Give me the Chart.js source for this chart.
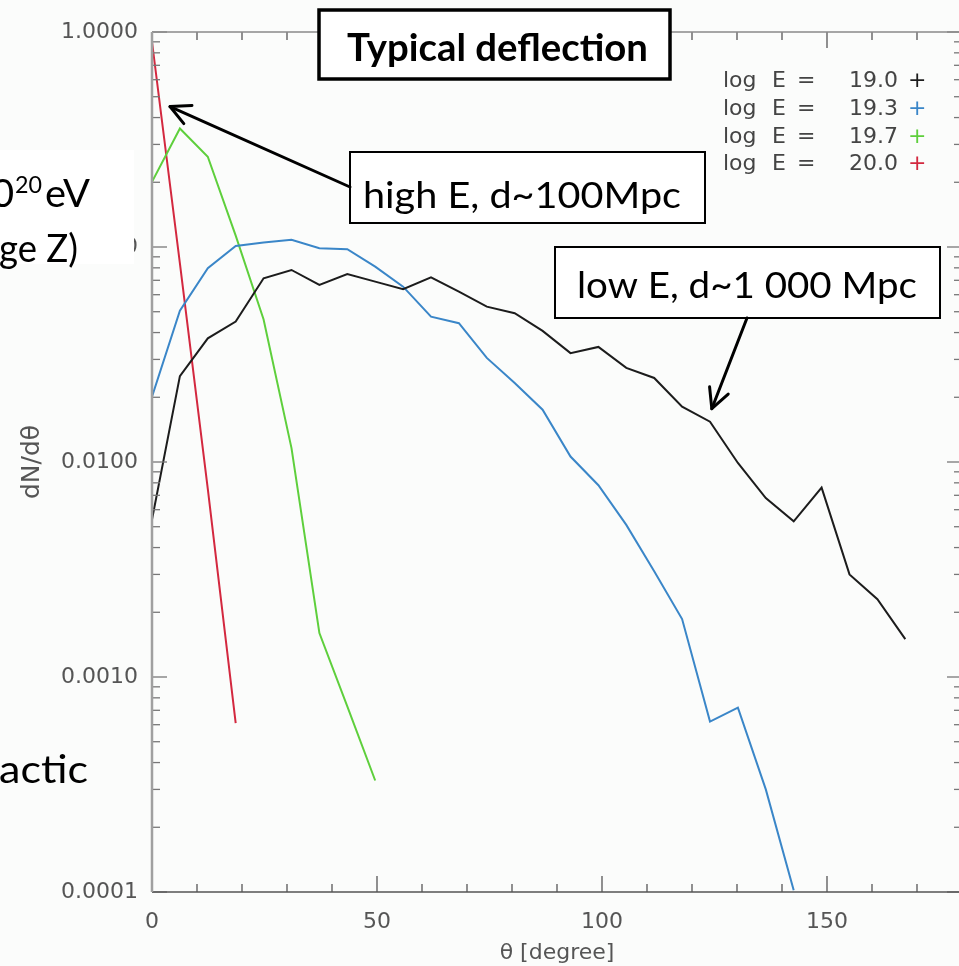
<!DOCTYPE html>
<html>
<head>
<meta charset="utf-8">
<script src="https://cdn.jsdelivr.net/npm/chart.js@4.4.1/dist/chart.umd.min.js"></script>
<style>
html,body{margin:0;padding:0;overflow:hidden;width:959px;height:966px;background:#fbfcfb}
#wrap{position:absolute;left:0;top:0;width:975px;height:966px}
</style>
</head>
<body>
<div id="wrap"><canvas id="c" width="975" height="966"></canvas></div>
<script>
// ---- data ----
const theta = [0, 6.2, 12.4, 18.6, 24.8, 31.0, 37.2, 43.4, 49.6, 55.8, 62.0, 68.2, 74.4, 80.6,
               86.8, 93.0, 99.2, 105.4, 111.6, 117.8, 124.0, 130.2, 136.4, 142.6, 148.8, 155.0, 161.2, 167.4];
const energyLabels = ['19.0', '19.3', '19.7', '20.0'];
const seriesColors = ['#1c1c1c', '#3a86c8', '#5ecf3c', '#d3283f'];
const dNdTheta_19_0 = [0.0054, 0.0251, 0.0376, 0.045, 0.0715, 0.0782, 0.0666, 0.0749, 0.069, 0.0636,
                       0.0723, 0.062, 0.0528, 0.0492, 0.0407, 0.0321, 0.0343, 0.0274, 0.0246, 0.0181,
                       0.0154, 0.0099, 0.0068, 0.0053, 0.0076, 0.0030, 0.0023, 0.0015];
const dNdTheta_19_3 = [0.0201, 0.0506, 0.0796, 0.101, 0.105, 0.108, 0.0986, 0.0976, 0.081, 0.0654,
                       0.0474, 0.0442, 0.0305, 0.0233, 0.0175, 0.0106, 0.0078, 0.0051, 0.0031, 0.00186,
                       0.00062, 0.00072, 0.0003, 0.000102];
const dNdTheta_19_7 = [0.201, 0.356, 0.263, 0.113, 0.046, 0.0116, 0.0016, 0.00073, 0.00033];
const dNdTheta_20_0 = [0.9, 0.084, 0.0075, 0.00061];
const xTickValues = [0, 50, 100, 150];
const xMinorValues = [10, 20, 30, 40, 60, 70, 80, 90, 110, 120, 130, 140, 160, 170];
const yTickValues = [0.0001, 0.001, 0.01, 0.1, 1];
const xAxisTitle = 'θ [degree]';
const yAxisTitle = 'dN/dθ';
const titleText = 'Typical deflection';
const highText = 'high E, d~100Mpc';
const lowText = 'low E, d~1 000 Mpc';

const seriesValues = [dNdTheta_19_0, dNdTheta_19_3, dNdTheta_19_7, dNdTheta_20_0];
const datasets = seriesValues.map((vals, i) => ({
  label: 'log E = ' + energyLabels[i],
  data: vals.map((v, k) => ({x: theta[k], y: v})),
  borderColor: seriesColors[i],
  borderWidth: 2,
  pointRadius: 0,
  tension: 0,
  fill: false
}));

function fitText(ctx, text, x, y, width, font) {
  ctx.font = font;
  const w = ctx.measureText(text).width;
  ctx.save();
  ctx.translate(x, y);
  ctx.scale(width / w, 1);
  ctx.textAlign = 'left';
  ctx.textBaseline = 'alphabetic';
  ctx.fillText(text, 0, 0);
  ctx.restore();
}
function seg(ctx, x1, y1, x2, y2) { ctx.beginPath(); ctx.moveTo(x1, y1); ctx.lineTo(x2, y2); ctx.stroke(); }
function arrow(ctx, x1, y1, x2, y2) {
  ctx.save();
  ctx.strokeStyle = '#000'; ctx.lineWidth = 3; ctx.lineCap = 'round'; ctx.lineJoin = 'round';
  seg(ctx, x1, y1, x2, y2);
  const ang = Math.atan2(y1 - y2, x1 - x2);
  const L = 22, a = 27 * Math.PI / 180;
  ctx.beginPath();
  ctx.moveTo(x2 + L * Math.cos(ang + a), y2 + L * Math.sin(ang + a));
  ctx.lineTo(x2, y2);
  ctx.lineTo(x2 + L * Math.cos(ang - a), y2 + L * Math.sin(ang - a));
  ctx.stroke();
  ctx.restore();
}
function box(ctx, x, y, w, h, lw) {
  ctx.save();
  ctx.fillStyle = '#ffffff'; ctx.fillRect(x, y, w, h);
  ctx.strokeStyle = '#000'; ctx.lineWidth = lw; ctx.strokeRect(x, y, w, h);
  ctx.restore();
}

const overlay = {
  id: 'overlay',
  beforeDraw(chart) {
    const c = chart.ctx;
    c.save(); c.fillStyle = '#fbfcfb'; c.fillRect(0, 0, chart.width, chart.height); c.restore();
  },
  afterDatasetsDraw(chart) {
    const {ctx, chartArea: a, scales: {x, y}} = chart;
    ctx.save();
    // ticks (inward, mirrored on all sides)
    ctx.strokeStyle = '#555'; ctx.lineWidth = 1.3;
    xTickValues.forEach(v => { const p = x.getPixelForValue(v); seg(ctx, p, a.bottom, p, a.bottom - 16); seg(ctx, p, a.top, p, a.top + 16); });
    xMinorValues.forEach(v => { const p = x.getPixelForValue(v); seg(ctx, p, a.bottom, p, a.bottom - 8); seg(ctx, p, a.top, p, a.top + 8); });
    ctx.strokeStyle = '#777';
    yTickValues.forEach(v => { const p = y.getPixelForValue(v); seg(ctx, a.left, p, a.left + 15, p); seg(ctx, a.right, p, a.right - 15, p); });
    yTickValues.slice(0, -1).forEach(d => {
      [2, 3, 4, 5, 6, 7, 8, 9].forEach(m => { const p = y.getPixelForValue(d * m); seg(ctx, a.left, p, a.left + 8, p); seg(ctx, a.right, p, a.right - 8, p); });
    });
    // frame
    ctx.lineWidth = 1.5; ctx.strokeStyle = '#8a8a8a';
    seg(ctx, a.left, a.top, a.right, a.top);
    seg(ctx, a.right, a.top, a.right, a.bottom);
    ctx.strokeStyle = '#555';
    seg(ctx, a.left, a.bottom, a.right, a.bottom);
    ctx.strokeStyle = '#a0a0a0'; ctx.lineWidth = 2.5;
    seg(ctx, a.left, a.top, a.left, a.bottom);
    ctx.restore();
  },
  afterDraw(chart) {
    const {ctx, scales: {x, y}} = chart;
    ctx.save();
    // left slide text (cut by page edge)
    ctx.fillStyle = '#ffffff';
    ctx.fillRect(0, 150, 134, 114);
    ctx.fillStyle = '#000';
    ctx.font = '39px Lato';
    ctx.textAlign = 'right'; ctx.textBaseline = 'alphabetic';
    ctx.fillText('0', 14, 207);
    fitText(ctx, '20', 15, 193, 27, '23px Lato');
    fitText(ctx, 'eV', 45, 207, 45, '39px Lato');
    fitText(ctx, 'ge Z)', -1, 262, 79, '39px Lato');
    fitText(ctx, 'actic', -1, 783, 89, '39px Lato');

    // title box
    box(ctx, 319, 10, 351, 69, 3.5);
    ctx.fillStyle = '#000';
    fitText(ctx, titleText, 347, 61, 301, 'bold 38px Lato');

    // high E box + arrow
    box(ctx, 350, 152, 355, 71, 2);
    ctx.fillStyle = '#000';
    fitText(ctx, highText, 363, 208, 318, '37px Lato');
    arrow(ctx, 350, 187, x.getPixelForValue(4.0), y.getPixelForValue(0.45));

    // low E box + arrow
    box(ctx, 555, 247, 385, 71, 2);
    ctx.fillStyle = '#000';
    fitText(ctx, lowText, 577, 298, 340, '37px Lato');
    arrow(ctx, 747, 318, x.getPixelForValue(124.4), y.getPixelForValue(0.0177));

    // legend (IDL style)
    ctx.font = '22px "DejaVu Sans"';
    ctx.textBaseline = 'alphabetic';
    chart.data.datasets.forEach((ds, i) => {
      const by = 87 + i * 27.8;
      ctx.fillStyle = '#444';
      ctx.textAlign = 'left';
      ctx.fillText('log', 723, by);
      ctx.fillText('E', 772, by);
      ctx.fillText('=', 797, by);
      ctx.textAlign = 'right';
      ctx.fillText(energyLabels[i], 898, by);
      ctx.textAlign = 'left';
      ctx.fillStyle = ds.borderColor;
      ctx.fillText('+', 908, by);
    });
    ctx.restore();
  }
};

new Chart(document.getElementById('c'), {
  type: 'line',
  data: {datasets},
  options: {
    responsive: false,
    animation: false,
    devicePixelRatio: 1,
    layout: {padding: {top: 32, right: 13, left: 0, bottom: 0}},
    plugins: {legend: {display: false}, tooltip: {enabled: false}},
    scales: {
      x: {
        type: 'linear', min: 0, max: 180,
        afterFit(s) { s.height = 74; },
        afterBuildTicks(s) { s.ticks = xTickValues.map(v => ({value: v})); },
        grid: {display: false, drawTicks: false},
        border: {display: false},
        ticks: {autoSkip: false, maxRotation: 0, padding: 17, color: '#555', font: {family: 'DejaVu Sans', size: 22}},
        title: {display: true, text: xAxisTitle, color: '#555', font: {family: 'DejaVu Sans', size: 22}, padding: {top: 0, bottom: 0}}
      },
      y: {
        type: 'logarithmic', min: 0.0001, max: 1,
        afterFit(s) { s.width = 152; },
        afterBuildTicks(s) { s.ticks = yTickValues.map(v => ({value: v})); },
        grid: {display: false, drawTicks: false},
        border: {display: false},
        ticks: {autoSkip: false, padding: 14, color: '#555', font: {family: 'DejaVu Sans', size: 22},
                callback: v => Number(v).toFixed(4)},
        title: {display: true, text: yAxisTitle, color: '#555', font: {family: 'DejaVu Sans', size: 25}, padding: {top: 17, bottom: 0}}
      }
    }
  },
  plugins: [overlay]
});
</script>
</body>
</html>
